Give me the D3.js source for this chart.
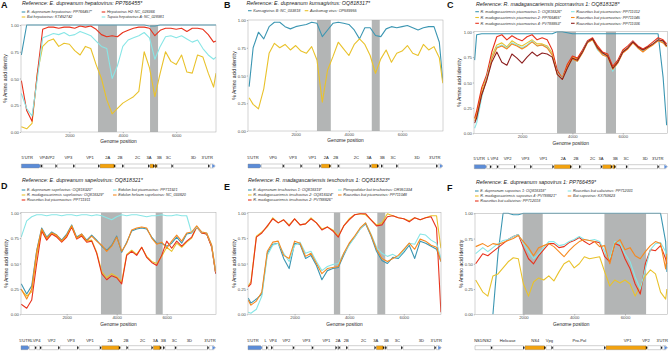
<!DOCTYPE html>
<html><head><meta charset="utf-8">
<script src="https://cdn.jsdelivr.net/npm/d3@7"></script>
<style>
body{margin:0;background:#fff}
svg{display:block}
text{font-family:"Liberation Sans",Arial,Helvetica,sans-serif}
</style></head>
<body><svg id="c" width="669" height="351"></svg>
<script>
// ================= DATA =================
const yTicks = [0, 0.25, 0.5, 0.75, 1];
const xTicks = [2000, 4000, 6000];

// ---- Panel A: hepatovirus ----
const posA = [200,400,600,800,1000,1200,1400,1600,1800,2000,2200,2400,2600,2800,3000,3200,3400,3600,3800,4000,4200,4400,4600,4800,5000,5200,5400,5600,5800,6000,6200,6400,6600,6800,7000,7200,7400,7490];
const aTeal = [0.72,1.00,1.00,1.00,1.00,1.00,1.00,1.00,1.00,1.00, 1.00,1.00,1.00,1.00,1.00,1.00,1.00,1.00,1.00,1.00, 1.00,1.00,1.00,1.00,0.99,0.99,1.00,1.00,1.00,1.00, 1.00,1.00,1.00,1.00,1.00,1.00,1.00,1.00];
const aRed = [0.48,0.20,0.10,0.55,0.96,0.98,0.98,0.97,0.98,0.98, 0.97,0.99,0.98,0.99,0.96,0.91,0.89,0.90,0.89,0.93, 0.95,0.97,0.98,0.98,0.97,0.90,0.95,0.97,0.97,0.96, 0.97,0.94,0.97,0.97,0.96,0.91,0.84,0.85];
const aYellow = [0.05,0.03,0.08,0.55,0.80,0.85,0.87,0.80,0.83,0.82, 0.76,0.72,0.80,0.78,0.63,0.50,0.30,0.17,0.22,0.27, 0.30,0.33,0.38,0.75,0.60,0.33,0.55,0.75,0.66,0.63, 0.72,0.56,0.55,0.72,0.70,0.55,0.42,0.55];
const aCyan = [0.36,0.22,0.15,0.50,0.88,0.90,0.92,0.91,0.93,0.90, 0.91,0.94,0.92,0.90,0.85,0.80,0.78,0.50,0.62,0.80, 0.86,0.88,0.90,0.93,0.88,0.68,0.80,0.89,0.90,0.88, 0.90,0.87,0.84,0.86,0.78,0.72,0.68,0.70];
const shadeA = [[3070,3780],[5020,5320]];
const genesA = [["5'UTR",200,924,"u5",424],["VP4",924,1000,"c",1024],["VP2",1000,1547,"c",1298],["VP3",1547,2210,"c",1960],["VP1",2210,3146,"c",2772],["2A",3146,3733,"h",3433],["2B",3733,4045,"c",3895],["2C",4045,5019,"c",4557],["3A",5019,5206,"h",4981],["3B",5206,5294,"h",5368],["3C",5294,5893,"c",5705],["3D",5893,7266,"c",6642],["3'UTR",7266,7460,"u3",7166]];

// ---- Panel B: kunsagivirus ----
const posB = [250,400,600,800,1000,1200,1400,1600,1800,2000,2200,2400,2600,2800,3000,3200,3400,3600,3800,4000,4200,4400,4600,4800,5000,5200,5400,5600,5800,6000,6200,6400,6600,6800,7000,7200,7400,7530];
const bTeal = [0.40,0.75,0.89,0.83,0.94,0.98,0.98,0.94,0.92,0.94, 0.95,0.96,0.98,0.97,0.85,0.91,0.97,0.98,0.97,0.96, 0.91,0.83,0.93,0.93,0.86,0.85,0.92,0.94,0.93,0.94, 0.95,0.93,0.91,0.93,0.94,0.94,0.80,0.45];
const bYellow = [0.30,0.24,0.20,0.38,0.70,0.79,0.75,0.78,0.73,0.77, 0.72,0.70,0.76,0.64,0.26,0.55,0.67,0.80,0.74,0.68, 0.78,0.83,0.78,0.68,0.52,0.65,0.73,0.62,0.70,0.72, 0.77,0.70,0.68,0.78,0.73,0.76,0.66,0.43];
const shadeB = [[2800,3320],[4860,5160]];
const genesB = [["5'UTR",207,707,"u5",395],["VP0",707,1580,"c",1147],["VP3",1580,2250,"c",1898],["VP1",2250,2960,"c",2625],["2A",2960,3330,"h",3152],["2B",3330,3650,"c",3503],["2C",3650,4850,"c",4280],["3A",4850,5130,"h",4756],["3B",5130,5280,"c",5257],["3C",5280,5850,"c",5658],["3D",5850,7350,"c",6560],["3'UTR",7350,7530,"u3",7224]];

// ---- Panel C: picornavirus ----
const posC = [120,200,400,600,800,1000,1200,1400,1600,1800,2000,2200,2400,2600,2800,3000,3200,3400,3600,3800,4000,4200,4400,4600,4800,5000,5200,5400,5600,5800,6000,6200,6400,6600,6800,7000,7200,7400,7600,7740];
const cTeal = [0.72,0.97,0.98,0.98,0.98,0.98,0.98,0.98,0.98,0.98, 0.98,0.98,0.98,0.98,0.98,0.98,0.98,1.00,1.00,0.99, 0.98,0.98,0.98,0.98,0.98,0.98,0.98,0.98,0.98,0.98, 0.98,0.98,0.98,0.98,0.98,0.98,0.98,0.98,0.55,0.08];
const cYellow = [0.14,0.20,0.42,0.56,0.76,0.87,0.89,0.85,0.91,0.88, 0.86,0.89,0.92,0.88,0.88,0.86,0.79,0.61,0.55,0.67, 0.75,0.73,0.81,0.90,0.93,0.85,0.79,0.77,0.65,0.71, 0.81,0.84,0.90,0.85,0.82,0.85,0.88,0.92,0.90,0.86];
const cRed = [0.15,0.22,0.45,0.58,0.80,0.95,0.97,0.92,0.96,0.93, 0.91,0.95,0.97,0.92,0.94,0.92,0.82,0.62,0.54,0.68, 0.76,0.74,0.82,0.91,0.94,0.86,0.80,0.78,0.66,0.72, 0.82,0.86,0.91,0.86,0.83,0.86,0.90,0.94,0.92,0.88];
const cCyan = [0.05,0.10,0.35,0.55,0.74,0.85,0.87,0.84,0.89,0.87, 0.84,0.87,0.91,0.86,0.87,0.85,0.77,0.59,0.54,0.64, 0.73,0.71,0.80,0.90,0.92,0.82,0.78,0.76,0.61,0.70, 0.80,0.84,0.90,0.84,0.81,0.84,0.88,0.92,0.90,0.85];
const cOrange = [0.12,0.17,0.38,0.53,0.73,0.84,0.86,0.83,0.88,0.86, 0.83,0.86,0.90,0.86,0.87,0.84,0.77,0.58,0.53,0.65, 0.73,0.71,0.79,0.89,0.92,0.83,0.77,0.75,0.63,0.69, 0.79,0.83,0.89,0.84,0.80,0.84,0.87,0.91,0.89,0.85];
const cDark = [0.10,0.15,0.38,0.52,0.70,0.80,0.70,0.67,0.78,0.74, 0.69,0.75,0.80,0.76,0.79,0.78,0.75,0.58,0.53,0.64, 0.74,0.72,0.80,0.90,0.93,0.84,0.79,0.76,0.64,0.70, 0.80,0.84,0.90,0.85,0.82,0.85,0.88,0.92,0.91,0.86];
const shadeC = [[3390,4140],[5330,5730]];
const genesC = [["5'UTR",107,600,"u5",307],["L",600,800,"c",677],["VP4",800,1075,"c",902],["VP2",1075,1760,"c",1431],["VP3",1760,2400,"c",2132],["VP1",2400,3280,"c",2847],["2A",3280,3980,"h",3640],["2B",3980,4340,"c",4143],["2C",4340,5200,"c",4804],["3A",5200,5600,"h",5135],["3B",5600,5730,"h",5704],["3C",5730,6200,"c",6127],["3D",6200,7450,"c",6881],["3'UTR",7450,7770,"u3",7384]];

// ---- Panel D: sapelovirus ----
const posD = [180,400,600,800,1000,1200,1400,1600,1800,2000,2200,2400,2600,2800,3000,3200,3400,3600,3800,4000,4200,4400,4600,4800,5000,5200,5400,5600,5800,6000,6200,6400,6600,6800,7000,7200,7400,7600,7800,7960];
const dTeal = [0.30,0.20,0.28,0.63,0.85,0.76,0.81,0.78,0.73,0.79, 0.88,0.76,0.79,0.73,0.78,0.73,0.67,0.63,0.68,0.77, 0.61,0.71,0.82,0.84,0.85,0.84,0.76,0.70,0.70,0.67, 0.70,0.76,0.70,0.79,0.80,0.86,0.80,0.79,0.67,0.40];
const dYellow = [0.24,0.18,0.22,0.58,0.83,0.74,0.80,0.77,0.72,0.77, 0.87,0.75,0.78,0.72,0.73,0.61,0.42,0.36,0.40,0.37, 0.32,0.59,0.63,0.59,0.66,0.57,0.52,0.50,0.57,0.66, 0.62,0.70,0.66,0.71,0.75,0.86,0.80,0.79,0.67,0.41];
const dRed = [0.10,0.06,0.14,0.50,0.82,0.73,0.79,0.76,0.71,0.76, 0.86,0.74,0.77,0.71,0.72,0.60,0.40,0.34,0.38,0.36, 0.30,0.58,0.62,0.58,0.66,0.56,0.51,0.48,0.58,0.72, 0.65,0.72,0.67,0.72,0.76,0.86,0.80,0.79,0.66,0.40];
const dCyan = [0.76,0.92,0.96,0.98,0.98,0.97,0.98,0.98,0.97,0.98, 0.98,0.97,0.98,0.98,0.97,0.98,0.97,0.95,0.93,0.96, 0.98,0.97,0.98,0.98,0.97,0.96,0.97,0.97,0.98,0.97, 0.97,0.98,0.97,0.97,0.80,0.86,0.81,0.80,0.68,0.42];
const dOrange = [0.25,0.15,0.25,0.62,0.84,0.75,0.80,0.78,0.72,0.78, 0.87,0.75,0.79,0.72,0.77,0.72,0.68,0.62,0.67,0.76, 0.62,0.70,0.83,0.85,0.86,0.85,0.75,0.69,0.71,0.65, 0.72,0.78,0.72,0.80,0.81,0.87,0.81,0.80,0.68,0.42];
const shadeD = [[3370,4200],[5560,5840]];
const genesD = [["5'UTR",172,505,"u5",333],["L",505,800,"c",600],["VP4",800,1000,"c",800],["VP2",1000,1732,"c",1400],["VP3",1732,2492,"c",2173],["VP1",2492,3400,"c",2933],["2A",3400,4160,"h",3733],["2B",4160,4465,"c",4373],["2C",4465,5465,"c",5040],["3A",5465,5800,"h",5547],["3B",5800,5932,"c",5867],["3C",5932,6400,"c",6307],["3D",6400,7700,"c",6907],["3'UTR",7700,7950,"u3",7733]];

// ---- Panel E: teschovirus ----
const posE = [300,400,600,800,1000,1200,1400,1600,1800,2000,2200,2400,2600,2800,3000,3200,3400,3600,3800,4000,4200,4400,4600,4800,5000,5200,5400,5600,5800,6000,6200,6400,6600,6800,7000,7200,7360];
const eTeal = [0.16,0.11,0.15,0.20,0.60,0.69,0.70,0.55,0.45,0.70, 0.69,0.55,0.58,0.48,0.34,0.43,0.45,0.46,0.58,0.69, 0.76,0.84,0.89,0.77,0.62,0.53,0.50,0.56,0.55,0.61, 0.68,0.55,0.72,0.70,0.67,0.64,0.52];
const eYellow = [0.28,0.32,0.77,0.81,0.86,0.95,0.90,0.93,0.88,0.94, 0.88,0.89,0.95,0.90,0.84,0.86,0.83,0.77,0.87,0.94, 0.98,0.99,0.98,0.93,0.88,0.90,0.99,0.97,0.95,0.94, 0.92,0.95,0.93,0.95,0.97,0.97,0.65];
const eRed = [0.27,0.30,0.76,0.80,0.87,0.94,0.90,0.93,0.87,0.94, 0.88,0.89,0.94,0.90,0.83,0.86,0.82,0.76,0.87,0.93, 0.98,0.99,0.99,0.93,0.87,0.88,0.96,0.97,0.95,0.94, 0.91,0.95,0.93,0.95,0.96,0.85,0.02];
const eCyan = [0.02,0.01,0.05,0.18,0.58,0.68,0.70,0.60,0.52,0.68, 0.71,0.60,0.62,0.52,0.43,0.47,0.49,0.50,0.60,0.68, 0.76,0.84,0.90,0.79,0.66,0.60,0.57,0.59,0.56,0.63, 0.70,0.69,0.79,0.78,0.73,0.70,0.55];
const eOrange = [0.14,0.09,0.13,0.22,0.62,0.71,0.72,0.58,0.55,0.72, 0.70,0.57,0.60,0.50,0.40,0.45,0.46,0.47,0.60,0.70, 0.77,0.85,0.90,0.78,0.64,0.55,0.52,0.55,0.58,0.64, 0.70,0.64,0.74,0.72,0.68,0.66,0.52];
const shadeE = [[3440,3670],[5030,5320]];
const genesE = [["5'UTR",293,818,"u5",476],["L",818,1026,"c",940],["VP4",1026,1209,"c",1209],["VP2",1209,2002,"c",1697],["VP3",2002,2698,"c",2430],["VP1",2698,3566,"c",3162],["2A",3566,3676,"c",3590],["2B",3676,3956,"c",3895],["2C",3956,4994,"c",4530],["3A",4994,5300,"h",4969],["3B",5300,5385,"c",5360],["3C",5385,5971,"c",5763],["3D",5971,7191,"c",6642],["3'UTR",7191,7370,"u3",7192]];

// ---- Panel F: sapovirus ----
const posF = [120,400,600,800,1000,1200,1400,1600,1800,2000,2200,2400,2600,2800,3000,3200,3400,3600,3800,4000,4200,4400,4600,4800,5000,5200,5400,5600,5800,6000,6200,6400,6600,6800,7000,7200,7400,7600,7650];
const fTeal = [null,null,null,0.00,0.60,1.00,1.00,0.985,0.985,1.00, 1.00,1.00,1.00,1.00,1.00,1.00,1.00,1.00,1.00,1.00, 1.00,1.00,1.00,1.00,1.00,1.00,1.00,1.00,1.00,1.00, 1.00,1.00,1.00,1.00,1.00,1.00,1.00,0.72,0.42];
const fYellow = [0.34,0.22,0.18,0.38,0.40,0.46,0.52,0.56,0.55,0.30, 0.18,0.32,0.36,0.34,0.38,0.33,0.42,0.50,0.53,0.46, 0.50,0.57,0.55,0.56,0.57,0.42,0.28,0.34,0.31,0.34, 0.30,0.18,0.28,0.38,0.44,0.40,0.22,0.15,0.25];
const fRed = [0.50,0.60,0.58,0.62,0.66,0.70,0.74,0.77,0.79,0.66, 0.55,0.50,0.58,0.64,0.70,0.70,0.66,0.67,0.71,0.73, 0.76,0.72,0.69,0.72,0.71,0.57,0.52,0.70,0.68,0.55, 0.45,0.30,0.20,0.50,0.64,0.63,0.68,0.55,0.50];
const fCyan = [0.60,0.66,0.62,0.66,0.70,0.73,0.74,0.77,0.79,0.70, 0.62,0.55,0.60,0.66,0.72,0.72,0.68,0.69,0.72,0.74, 0.77,0.74,0.73,0.74,0.72,0.62,0.55,0.72,0.70,0.60, 0.52,0.37,0.25,0.45,0.64,0.70,0.71,0.62,0.55];
const fOrange = [0.67,0.70,0.67,0.70,0.69,0.71,0.73,0.75,0.78,0.72, 0.66,0.58,0.66,0.68,0.70,0.67,0.62,0.57,0.63,0.68, 0.72,0.74,0.73,0.72,0.67,0.68,0.50,0.70,0.74,0.64, 0.66,0.58,0.55,0.62,0.68,0.72,0.70,0.45,0.60];
const shadeF = [[1970,2760],[5190,6830]];
const genesF = [["NS1/NS2",94,791,"c",396],["Helicase",791,2063,"c",1381],["NS4",2063,2890,"h",2470],["Vpg",2890,3178,"c",3021],["Pro-Pol",3178,5252,"c",4202],["VP1",5252,6893,"h",6105],["VP2",6893,7483,"c",6827],["3'UTR",7483,7670,"u3",7549]];

// ================= STYLE =================
const COL = {teal:"#3b96b2", yellow:"#e9c22b", red:"#e8321c", cyan:"#88e6e6", orange:"#f6891f", dark:"#8c1f1f"};
const SHADE = "#b3b5b5", BLUE = "#5b8cd8", GENE_HL = "#f3a20d";
const FS = {letter:9, title:5.35, legend:3.75, tick:4.3, axis:4.8, ytitle:5.1, gene:4.1};

// ================= PANELS =================
const panels = [
 {letter:"A", lx:1, ly:7.5, title:"Reference: E. dupreanum hepatovirus: PP766455*", tx:22, ty:5.3,
  L:21, R:216, T:25, B:132, domain:[187,7490], pos:posA, shade:shadeA, genes:genesA, gy:166, gly:159.2,
  legCols:[21.7,101.7], legRows:[12,17], yTitleX:5.5,
  legend:[["E. dupreanum hepatovirus: PP766457*",COL.teal,aTeal,0,0],["Bat hepatovirus: KT452742",COL.yellow,aYellow,0,1],["Hepatovirus H2: NC_028366",COL.red,aRed,1,0],["Tupaia hepatovirus A: NC_028981",COL.cyan,aCyan,1,1]]},
 {letter:"B", lx:224, ly:7.5, title:"Reference: E. dupreanum kunsagivirus: OQ818317*", tx:246.5, ty:4.7,
  L:248, R:443, T:20, B:131, domain:[207,7538], pos:posB, shade:shadeB, genes:genesB, gy:166, gly:158.8,
  legCols:[248,304.7], legRows:[10.7], yTitleX:234,
  legend:[["Kunsagivirus B: NC_033818",COL.teal,bTeal,0,0],["Auskomag virus: OP589955",COL.yellow,bYellow,1,0]]},
 {letter:"C", lx:447, ly:8, title:"Reference: R. madagascariensis picornavirus 1: OQ818328*", tx:476, ty:5.9,
  L:474, R:667.5, T:31.7, B:133.3, domain:[95,7774], pos:posC, shade:shadeC, genes:genesC, gy:166.7, gly:159.8,
  legCols:[475.3,571], legRows:[11.7,17.5,23.3], yTitleX:459.5,
  legend:[["R. madagascariensis picornavirus 1: OQ818326*",COL.teal,cTeal,0,0],["R. madagascariensis picornavirus 2: PP766465*",COL.yellow,cYellow,0,1],["R. madagascariensis picornavirus 4: PV788853*",COL.red,cRed,0,2],["Rousettus bat picornavirus: PP711012",COL.cyan,cCyan,1,0],["Rousettus bat picornavirus: PP711045",COL.orange,cOrange,1,1],["Rousettus bat picornavirus: PP711006",COL.dark,cDark,1,2]]},
 {letter:"D", lx:1, ly:189, title:"Reference: E. dupreanum sapelovirus: OQ818321*", tx:22, ty:181.6,
  L:21, R:216, T:212.7, B:314.3, domain:[172,7972], pos:posD, shade:shadeD, genes:genesD, gy:347.7, gly:341.5,
  legCols:[21.7,113], legRows:[190,195,200], yTitleX:6.5,
  legend:[["E. dupreanum sapelovirus: OQ818320*",COL.teal,dTeal,0,0],["R. madagascariensis sapelovirus: OQ818329*",COL.yellow,dYellow,0,1],["Rousettus bat picornavirus: PP711911",COL.red,dRed,0,2],["Eidolon bat picornavirus: PP711921",COL.cyan,dCyan,1,0],["Eidolon helvum sapelovirus: NC_033820",COL.orange,dOrange,1,1]]},
 {letter:"E", lx:224, ly:189.5, title:"Reference: R. madagascariensis teschovirus 1: OQ818323*", tx:248, ty:181.6,
  L:248, R:441, T:212.7, B:314.3, domain:[293,7363], pos:posE, shade:shadeE, genes:genesE, gy:347.7, gly:341.5,
  legCols:[248,338], legRows:[190,195,200], yTitleX:234,
  legend:[["E. dupreanum teschovirus 1: OQ818319*",COL.teal,eTeal,0,0],["R. madagascariensis teschovirus 2: OQ818324*",COL.yellow,eYellow,0,1],["R. madagascariensis teschovirus 2: PV788826*",COL.red,eRed,0,2],["Pteropodidae bat teschovirus: OR951334",COL.cyan,eCyan,1,0],["Rousettus bat picornavirus: PP711048",COL.orange,eOrange,1,1]]},
 {letter:"F", lx:447, ly:190.5, title:"Reference: E. dupreanum sapovirus 1: PP766459*", tx:476, ty:184.1,
  L:475, R:667.5, T:213.3, B:314.3, domain:[94,7673], pos:posF, shade:shadeF, genes:genesF, gy:347.7, gly:341.5,
  legCols:[475,567.7], legRows:[191,196,201], yTitleX:461,
  legend:[["E. dupreanum sapovirus 1: OQ818318*",COL.teal,fTeal,0,0],["R. madagascariensis sapovirus 4: PV788821*",COL.yellow,fYellow,0,1],["Rousettus bat calicivirus: PP712018",COL.red,fRed,0,2],["Rousettus bat calicivirus: PP712001",COL.cyan,fCyan,1,0],["Bat sapovirus: KX759623",COL.orange,fOrange,1,1]]}
];

const svg = d3.select("#c");
const defs = svg.append("defs");
const W = 669;

panels.forEach(p => {
  const g = svg.append("g");
  const x = d3.scaleLinear().domain(p.domain).range([p.L, p.R]);
  const y = d3.scaleLinear().domain([0,1]).range([p.B, p.T]);

  // panel letter & title
  g.append("text").attr("x",p.lx).attr("y",p.ly).text(p.letter)
    .attr("font-size",FS.letter).attr("font-weight","bold").attr("fill","#111");
  g.append("text").attr("x",p.tx).attr("y",p.ty).text(p.title)
    .attr("font-size",FS.title).attr("font-style","italic").attr("fill","#222");

  // legend
  p.legend.forEach(([name,color,vals,col,row]) => {
    const lx = p.legCols[col], ly = p.legRows[row];
    g.append("line").attr("x1",lx).attr("x2",lx+3.6).attr("y1",ly).attr("y2",ly)
      .attr("stroke",color).attr("stroke-width",1.1);
    g.append("text").attr("x",lx+5.2).attr("y",ly+1.3).text(name)
      .attr("font-size",FS.legend).attr("font-style","italic").attr("fill","#333");
  });

  // shading
  g.append("g").selectAll("rect").data(p.shade).join("rect")
    .attr("x",d=>x(d[0])).attr("width",d=>x(d[1])-x(d[0]))
    .attr("y",p.T).attr("height",p.B-p.T).attr("fill",SHADE);

  // lines
  const cid = "clip"+p.letter;
  defs.append("clipPath").attr("id",cid).append("rect")
    .attr("x",p.L).attr("y",p.T-1).attr("width",p.R-p.L).attr("height",p.B-p.T+1.5);
  const line = d3.line().defined(d=>d[1]!=null).x(d=>x(d[0])).y(d=>y(d[1]));
  const lg = g.append("g").attr("clip-path","url(#"+cid+")");
  p.legend.forEach(([name,color,vals]) => {
    lg.append("path").datum(p.pos.map((q,i)=>[q,vals[i]]))
      .attr("d",line).attr("fill","none").attr("stroke",color)
      .attr("stroke-width",1.1).attr("stroke-linejoin","round");
  });

  // border
  g.append("rect").attr("x",p.L).attr("y",p.T).attr("width",p.R-p.L).attr("height",p.B-p.T)
    .attr("fill","none").attr("stroke","#a8a8a8").attr("stroke-width",0.5);

  // y axis
  const ya = g.append("g").attr("transform",`translate(${p.L},0)`)
    .call(d3.axisLeft(y).tickValues(yTicks).tickFormat(d3.format(".2f")).tickSize(1.2).tickPadding(0.8));
  ya.select(".domain").remove();
  ya.selectAll("line").attr("stroke","#555").attr("stroke-width",0.4);
  ya.selectAll("text").attr("font-size",FS.tick).attr("fill","#4d4d4d").attr("font-family",null).attr("dy","0.35em");

  // x axis
  const xa = g.append("g").attr("transform",`translate(0,${p.B})`)
    .call(d3.axisBottom(x).tickValues(xTicks).tickSize(1.2).tickPadding(0.8).tickFormat(d3.format("d")));
  xa.select(".domain").remove();
  xa.selectAll("line").attr("stroke","#555").attr("stroke-width",0.4);
  xa.selectAll("text").attr("font-size",FS.tick).attr("fill","#4d4d4d").attr("font-family",null).attr("dy","0.71em");

  g.append("text").attr("x",(p.L+p.R)/2).attr("y",p.B+11.3).attr("text-anchor","middle")
    .text("Genome position").attr("font-size",FS.axis).attr("fill","#222");
  g.append("text").attr("transform",`translate(${p.yTitleX},${(p.T+p.B)/2}) rotate(-90)`)
    .attr("text-anchor","middle").attr("dy","0.35em").text("% Amino acid identity")
    .attr("font-size",FS.ytitle).attr("fill","#222");

  // genome diagram
  const h = 4, gy = p.gy;
  const gg = g.append("g");
  p.genes.forEach(([name,s,e,type,lab]) => {
    const x0 = x(s), x1 = x(e), a = Math.min(1.6,(x1-x0)/2);
    const pts = [[x0,gy-h/2],[x1-a,gy-h/2],[x1,gy],[x1-a,gy+h/2],[x0,gy+h/2]];
    const fill = type==="u5" ? BLUE : (type==="h" ? GENE_HL : "#fff");
    gg.append("polygon").attr("points",pts.map(d=>d.join(",")).join(" "))
      .attr("fill",fill).attr("stroke","#8a8a8a").attr("stroke-width",0.4);
    if (type==="u3") {
      const hx = x1-3;
      gg.append("polygon").attr("points",[[hx,gy-h/2],[x1,gy],[hx,gy+h/2]].map(d=>d.join(",")).join(" "))
        .attr("fill",BLUE);
    }
    if (type==="c" || type==="h") {
      gg.append("polygon").attr("points",[[x1-1.9,gy-h/2+0.2],[x1-0.2,gy],[x1-1.9,gy+h/2-0.2]].map(d=>d.join(",")).join(" "))
        .attr("fill","#111");
    }
    const t = gg.append("text").attr("x",x(lab)).attr("y",p.gly).attr("text-anchor","middle")
      .text(name).attr("font-size",FS.gene).attr("fill","#222");
    const w = t.node().getComputedTextLength();
    const maxC = W - 1 - w/2;
    if (x(lab) > maxC) t.attr("x", maxC);
  });
});
</script>
</body></html>
